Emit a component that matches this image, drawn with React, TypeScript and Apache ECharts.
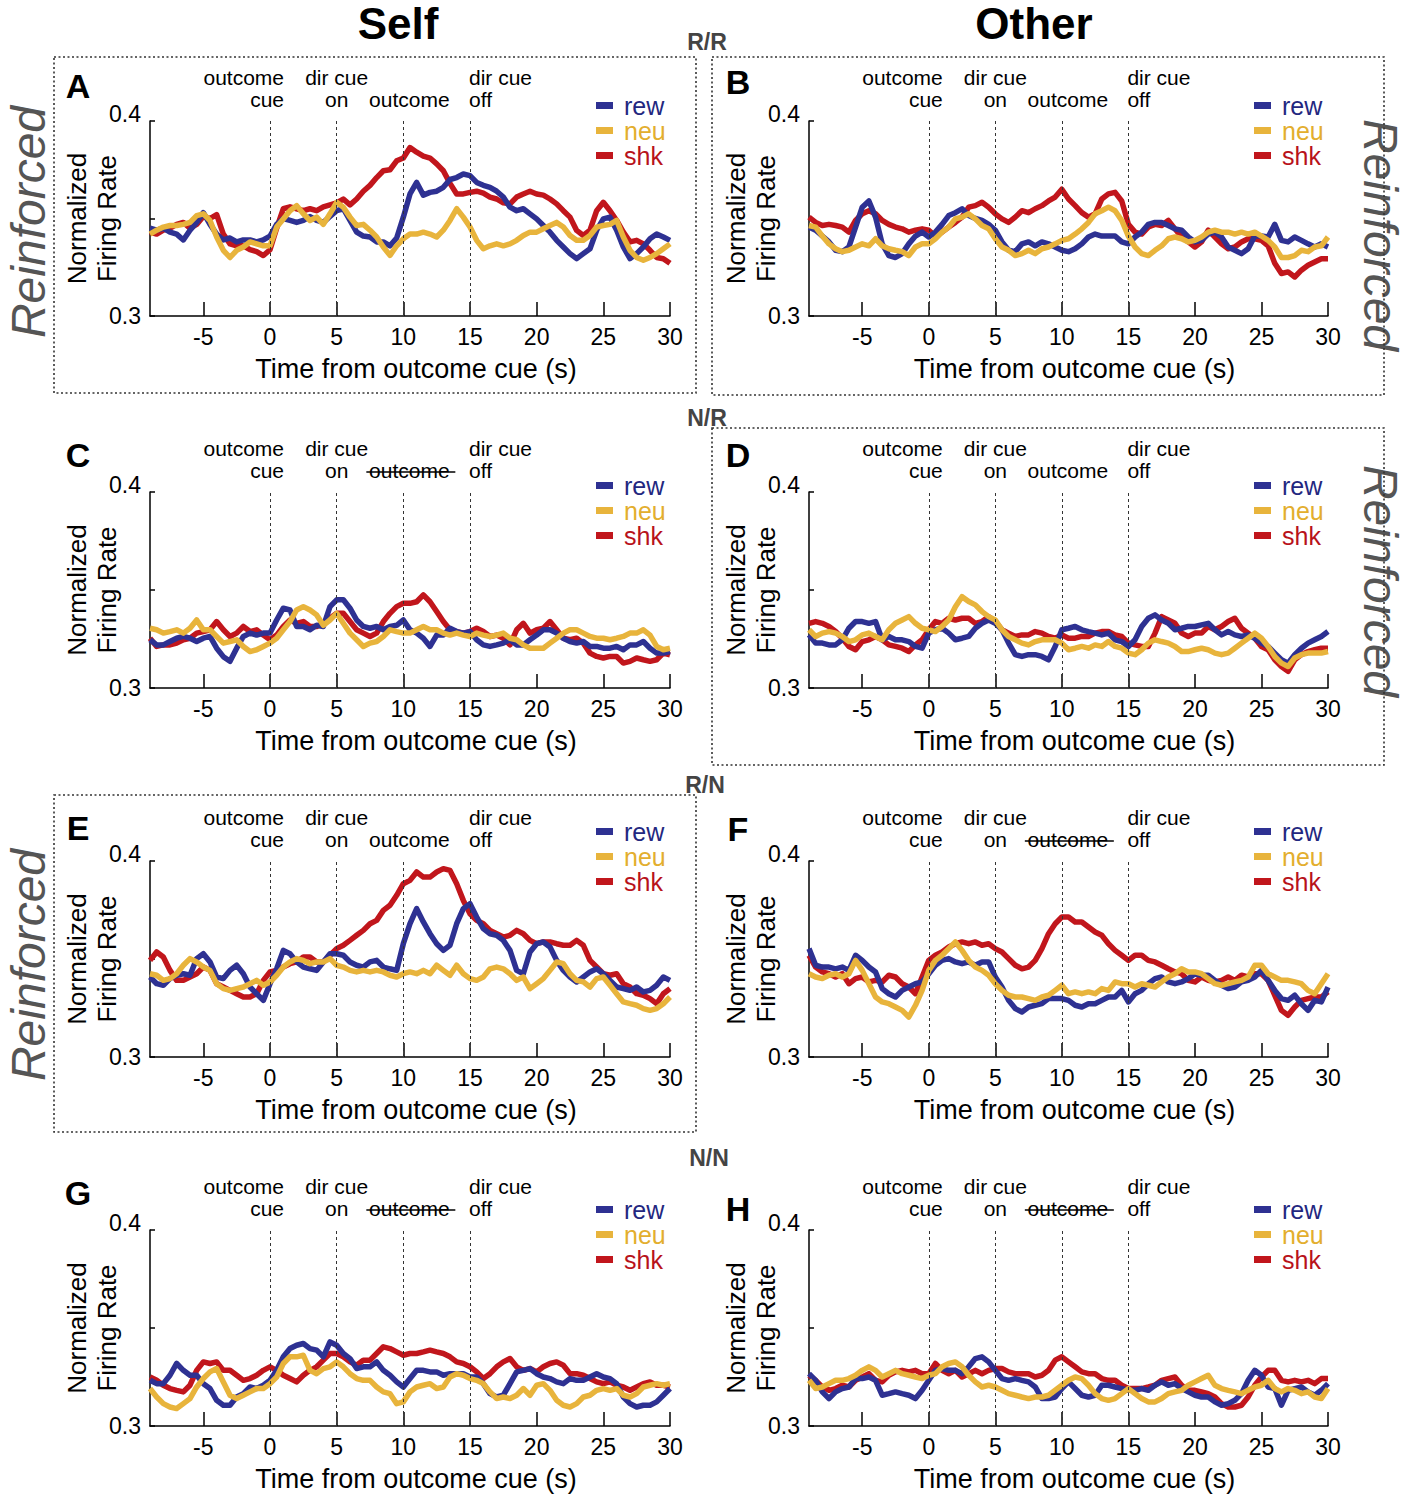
import React, { useEffect, useRef } from "react";
import * as echarts from "echarts";

// ---- sampling of every trace: first sample time and step (seconds) ----
const TIME_START = -9;
const TIME_STEP = 0.5;

const X_MIN = -9;
const X_MAX = 30;
const X_TICKS = [-5, 0, 5, 10, 15, 20, 25, 30];
const EVENT_TIMES = [0, 5, 10, 15];
const SERIES_NAMES = ["rew", "neu", "shk"];

// ---- Panel A (Self, R/R) ----
const A_REW = [
  0.345, 0.344, 0.345, 0.343, 0.342, 0.339, 0.344, 0.348,
  0.353, 0.347, 0.342, 0.339, 0.340, 0.338, 0.339, 0.339,
  0.338, 0.339, 0.341, 0.347, 0.350, 0.349, 0.348, 0.349,
  0.351, 0.349, 0.348, 0.351, 0.354, 0.355, 0.349, 0.343,
  0.341, 0.3405, 0.338, 0.338, 0.336, 0.340, 0.3507, 0.3626,
  0.3685, 0.362, 0.3634, 0.364, 0.366, 0.370, 0.371, 0.3728,
  0.372, 0.3685, 0.367, 0.366, 0.364, 0.361, 0.3558, 0.354,
  0.355, 0.3524, 0.3498, 0.3464, 0.343, 0.3388, 0.3354, 0.332,
  0.3294, 0.332, 0.3345, 0.344, 0.3498, 0.3507, 0.344, 0.3354,
  0.3294, 0.332, 0.3354, 0.3396, 0.342, 0.3405, 0.3388,
];
const A_NEU = [
  0.342, 0.344, 0.3456, 0.3464, 0.3464, 0.347, 0.348, 0.3515,
  0.3524, 0.349, 0.3405, 0.3337, 0.330, 0.3337, 0.3354, 0.338,
  0.337, 0.336, 0.336, 0.3456, 0.3498, 0.354, 0.3566, 0.3524,
  0.349, 0.3507, 0.347, 0.3524, 0.3583, 0.3558, 0.3507, 0.3464,
  0.347, 0.344, 0.3405, 0.3354, 0.3311, 0.336, 0.3396, 0.342,
  0.342, 0.343, 0.342, 0.3405, 0.344, 0.349, 0.355, 0.3507,
  0.3456, 0.3388, 0.3345, 0.336, 0.337, 0.336, 0.337, 0.3388,
  0.3413, 0.343, 0.343, 0.3447, 0.3464, 0.348, 0.3456, 0.3413,
  0.3388, 0.3388, 0.3413, 0.3456, 0.3464, 0.347, 0.349, 0.3405,
  0.3337, 0.330, 0.3286, 0.330, 0.332, 0.3345, 0.337,
];
const A_SHK = [
  0.343, 0.342, 0.344, 0.345, 0.347, 0.348, 0.345, 0.347,
  0.351, 0.350, 0.352, 0.342, 0.337, 0.336, 0.336, 0.334,
  0.333, 0.331, 0.334, 0.345, 0.355, 0.356, 0.355, 0.354,
  0.355, 0.354, 0.356, 0.357, 0.358, 0.360, 0.357, 0.360,
  0.364, 0.367, 0.371, 0.3745, 0.375, 0.3796, 0.381, 0.3864,
  0.384, 0.382, 0.381, 0.378, 0.3745, 0.368, 0.3626, 0.3626,
  0.3634, 0.364, 0.363, 0.361, 0.360, 0.358, 0.3575, 0.361,
  0.3626, 0.364, 0.3626, 0.362, 0.360, 0.3575, 0.354, 0.3507,
  0.3439, 0.3413, 0.344, 0.354, 0.3583, 0.354, 0.349, 0.343,
  0.338, 0.3388, 0.337, 0.3337, 0.330, 0.3294, 0.327,
];

// ---- Panel B (Other, R/R) ----
const B_REW = [
  0.3456, 0.344, 0.341, 0.338, 0.3337, 0.333, 0.3354, 0.3456,
  0.3558, 0.359, 0.3507, 0.337, 0.331, 0.330, 0.332, 0.337,
  0.341, 0.343, 0.3405, 0.343, 0.347, 0.3515, 0.353, 0.355,
  0.3515, 0.350, 0.349, 0.347, 0.344, 0.338, 0.3337, 0.333,
  0.337, 0.338, 0.336, 0.338, 0.337, 0.3354, 0.3337, 0.333,
  0.3345, 0.337, 0.3405, 0.342, 0.341, 0.341, 0.341, 0.338,
  0.337, 0.3405, 0.343, 0.347, 0.348, 0.348, 0.3464, 0.3447,
  0.344, 0.3405, 0.338, 0.3388, 0.342, 0.343, 0.3405, 0.3354,
  0.3337, 0.332, 0.3345, 0.341, 0.341, 0.3405, 0.347, 0.3388,
  0.338, 0.3405, 0.3388, 0.337, 0.3354, 0.337, 0.3354,
];
const B_NEU = [
  0.3464, 0.3456, 0.341, 0.337, 0.3345, 0.333, 0.3337, 0.3354,
  0.337, 0.336, 0.3396, 0.336, 0.3345, 0.3337, 0.333, 0.331,
  0.3354, 0.337, 0.337, 0.3396, 0.343, 0.3456, 0.3498, 0.3507,
  0.3524, 0.3498, 0.3464, 0.3447, 0.3396, 0.3354, 0.3337, 0.331,
  0.332, 0.3337, 0.332, 0.3345, 0.3354, 0.337, 0.3388, 0.3396,
  0.342, 0.3447, 0.348, 0.3524, 0.354, 0.3558, 0.354, 0.349,
  0.341, 0.3354, 0.332, 0.331, 0.3337, 0.336, 0.3396, 0.3405,
  0.3396, 0.338, 0.3388, 0.3405, 0.343, 0.344, 0.343, 0.343,
  0.342, 0.343, 0.342, 0.343, 0.341, 0.3388, 0.3354, 0.330,
  0.330, 0.331, 0.3337, 0.333, 0.3354, 0.336, 0.3405,
];
const B_SHK = [
  0.3507, 0.348, 0.3464, 0.347, 0.3464, 0.3456, 0.343, 0.349,
  0.3524, 0.354, 0.3524, 0.349, 0.347, 0.3456, 0.3447, 0.343,
  0.344, 0.3447, 0.344, 0.341, 0.343, 0.3456, 0.348, 0.3507,
  0.3558, 0.3566, 0.3583, 0.3558, 0.3524, 0.3498, 0.348, 0.3507,
  0.354, 0.353, 0.355, 0.3566, 0.359, 0.361, 0.365, 0.360,
  0.3566, 0.353, 0.3507, 0.3524, 0.360, 0.3626, 0.3634, 0.359,
  0.347, 0.343, 0.342, 0.3456, 0.347, 0.3464, 0.349, 0.3447,
  0.3405, 0.338, 0.3354, 0.338, 0.344, 0.3405, 0.337, 0.3345,
  0.3354, 0.338, 0.3396, 0.3396, 0.3388, 0.336, 0.327, 0.3218,
  0.3226, 0.320, 0.3235, 0.326, 0.3277, 0.3294, 0.3294,
];

// ---- Panel C (Self, N/R) ----
const C_REW = [
  0.3246, 0.322, 0.322, 0.3237, 0.3254, 0.3263, 0.3254, 0.3237,
  0.3254, 0.3263, 0.3203, 0.316, 0.3136, 0.3203, 0.3263, 0.328,
  0.327, 0.328, 0.328, 0.3347, 0.3407, 0.3398, 0.3314, 0.3314,
  0.3297, 0.332, 0.3314, 0.3415, 0.345, 0.345, 0.3407, 0.3347,
  0.3314, 0.3305, 0.3314, 0.3297, 0.3314, 0.332, 0.3347, 0.3297,
  0.328, 0.3254, 0.3212, 0.327, 0.327, 0.3305, 0.3288, 0.328,
  0.3288, 0.3246, 0.322, 0.3212, 0.322, 0.3229, 0.3246, 0.322,
  0.322, 0.3246, 0.327, 0.3297, 0.3297, 0.328, 0.3254, 0.3237,
  0.3229, 0.3237, 0.3212, 0.3212, 0.3203, 0.3203, 0.3212, 0.3195,
  0.322, 0.322, 0.3237, 0.3203, 0.3178, 0.3178, 0.3186,
];
const C_NEU = [
  0.3305, 0.3297, 0.328, 0.3288, 0.3297, 0.328, 0.3305, 0.3347,
  0.3297, 0.3297, 0.3263, 0.3229, 0.3237, 0.3246, 0.3212, 0.3186,
  0.3195, 0.3212, 0.3229, 0.3254, 0.3297, 0.3339, 0.3398, 0.3415,
  0.3398, 0.3373, 0.332, 0.3347, 0.3381, 0.333, 0.328, 0.3246,
  0.3212, 0.3229, 0.3237, 0.3263, 0.3297, 0.3288, 0.328, 0.328,
  0.3297, 0.3314, 0.3297, 0.3297, 0.328, 0.327, 0.328, 0.327,
  0.3263, 0.328, 0.327, 0.3263, 0.327, 0.328, 0.3254, 0.3246,
  0.322, 0.3203, 0.3203, 0.3203, 0.3229, 0.3254, 0.328, 0.3297,
  0.3297, 0.328, 0.3263, 0.3254, 0.3254, 0.3246, 0.3254, 0.3263,
  0.328, 0.328, 0.3297, 0.327, 0.3212, 0.3195, 0.3203,
];
const C_SHK = [
  0.3254, 0.3212, 0.322, 0.322, 0.3229, 0.3246, 0.3254, 0.328,
  0.3288, 0.3297, 0.3339, 0.3297, 0.3263, 0.328, 0.3314, 0.3288,
  0.3297, 0.327, 0.3246, 0.327, 0.3314, 0.3347, 0.333, 0.3339,
  0.3314, 0.3314, 0.333, 0.3356, 0.3381, 0.3381, 0.3339, 0.3297,
  0.328, 0.3263, 0.328, 0.3339, 0.3381, 0.3415, 0.3432, 0.3432,
  0.344, 0.3475, 0.344, 0.339, 0.3339, 0.3297, 0.3288, 0.328,
  0.3288, 0.3305, 0.3288, 0.3263, 0.327, 0.3254, 0.322, 0.3297,
  0.333, 0.328, 0.3297, 0.3305, 0.3339, 0.3297, 0.3254, 0.3246,
  0.3254, 0.3229, 0.3178, 0.3161, 0.3153, 0.3161, 0.3161, 0.3127,
  0.3136, 0.3153, 0.3144, 0.3136, 0.3144, 0.3178, 0.3169,
];

// ---- Panel D (Other, N/R) ----
const D_REW = [
  0.3271, 0.3229, 0.3229, 0.322, 0.322, 0.3246, 0.3305, 0.3339,
  0.3339, 0.333, 0.3339, 0.3246, 0.3263, 0.3246, 0.3246, 0.3237,
  0.3212, 0.3203, 0.328, 0.3297, 0.3305, 0.328, 0.3246, 0.3254,
  0.3263, 0.3305, 0.333, 0.3347, 0.333, 0.3297, 0.3229, 0.317,
  0.3161, 0.317, 0.317, 0.3161, 0.3144, 0.3212, 0.3297, 0.3305,
  0.3314, 0.3297, 0.3288, 0.328, 0.3271, 0.328, 0.3246, 0.3237,
  0.3212, 0.3246, 0.3314, 0.3356, 0.3373, 0.3347, 0.333, 0.3297,
  0.3305, 0.3314, 0.3314, 0.3322, 0.333, 0.3297, 0.3271, 0.3288,
  0.3271, 0.3263, 0.3271, 0.3254, 0.3229, 0.3212, 0.3178, 0.3144,
  0.3127, 0.317, 0.3203, 0.3229, 0.3246, 0.3263, 0.3288,
];
const D_NEU = [
  0.3297, 0.3263, 0.328, 0.3288, 0.328, 0.3263, 0.3237, 0.3246,
  0.3271, 0.328, 0.3263, 0.3246, 0.3297, 0.333, 0.3347, 0.3364,
  0.333, 0.3305, 0.3297, 0.3288, 0.3314, 0.3347, 0.3415, 0.3466,
  0.3441, 0.3424, 0.339, 0.3364, 0.3347, 0.3297, 0.3263, 0.3246,
  0.3229, 0.322, 0.3237, 0.3246, 0.3246, 0.3246, 0.3229, 0.3195,
  0.3203, 0.3212, 0.3203, 0.322, 0.3212, 0.3237, 0.3212, 0.3203,
  0.3178, 0.317, 0.3195, 0.3229, 0.3246, 0.3237, 0.3229, 0.3212,
  0.3186, 0.3186, 0.3195, 0.3203, 0.3195, 0.3178, 0.317, 0.3178,
  0.3203, 0.3229, 0.3254, 0.328, 0.3254, 0.3212, 0.3161, 0.3127,
  0.311, 0.3153, 0.317, 0.3178, 0.3178, 0.3178, 0.3186,
];
const D_SHK = [
  0.333, 0.3339, 0.333, 0.3314, 0.3288, 0.3254, 0.3212, 0.3195,
  0.3237, 0.3246, 0.3263, 0.3246, 0.322, 0.3212, 0.3203, 0.3186,
  0.322, 0.3246, 0.3297, 0.3339, 0.333, 0.3356, 0.3347, 0.3356,
  0.3356, 0.333, 0.3339, 0.3364, 0.3339, 0.3297, 0.328, 0.3263,
  0.3271, 0.3271, 0.3288, 0.328, 0.3263, 0.3254, 0.3271, 0.3254,
  0.3254, 0.3263, 0.3263, 0.328, 0.3288, 0.3288, 0.3271, 0.3263,
  0.3229, 0.322, 0.3212, 0.3212, 0.328, 0.3364, 0.3347, 0.333,
  0.328, 0.3263, 0.328, 0.328, 0.3314, 0.3297, 0.3314, 0.3339,
  0.3356, 0.3305, 0.328, 0.3254, 0.3212, 0.3195, 0.3144, 0.311,
  0.3085, 0.3144, 0.317, 0.3186, 0.3195, 0.3203, 0.3203,
];

// ---- Panel E (Self, R/N) ----
const E_REW = [
  0.3408, 0.3374, 0.3366, 0.340, 0.3417, 0.3425, 0.3417, 0.3502,
  0.3527, 0.3485, 0.3408, 0.340, 0.3442, 0.3468, 0.3425, 0.3357,
  0.3323, 0.3289, 0.3374, 0.345, 0.3544, 0.3527, 0.3485, 0.3459,
  0.345, 0.3442, 0.3485, 0.3527, 0.3527, 0.3519, 0.3485, 0.3468,
  0.3459, 0.3485, 0.3493, 0.3459, 0.345, 0.3442, 0.3578, 0.368,
  0.3757, 0.3689, 0.3629, 0.3578, 0.3544, 0.357, 0.368, 0.3757,
  0.3782, 0.3714, 0.3655, 0.3629, 0.3621, 0.3595, 0.3544, 0.3442,
  0.3425, 0.3536, 0.3578, 0.3587, 0.3561, 0.3493, 0.3442, 0.3408,
  0.3383, 0.3408, 0.3434, 0.345, 0.3425, 0.3391, 0.3357, 0.3349,
  0.334, 0.3357, 0.3332, 0.334, 0.3366, 0.3408, 0.3391,
];
const E_NEU = [
  0.3425, 0.3417, 0.3391, 0.340, 0.3425, 0.3468, 0.3502, 0.3485,
  0.3459, 0.3442, 0.3374, 0.3349, 0.334, 0.3349, 0.3357, 0.3374,
  0.3391, 0.3366, 0.3383, 0.3417, 0.3459, 0.3485, 0.3502, 0.3493,
  0.3476, 0.3485, 0.3485, 0.3502, 0.3468, 0.3459, 0.3442, 0.3434,
  0.3442, 0.3434, 0.3442, 0.3434, 0.3417, 0.3408, 0.3425, 0.3434,
  0.3425, 0.3442, 0.3425, 0.3468, 0.3442, 0.3417, 0.3468, 0.3425,
  0.340, 0.3391, 0.3408, 0.345, 0.3459, 0.345, 0.3425, 0.3391,
  0.3408, 0.3349, 0.3374, 0.340, 0.3442, 0.3485, 0.3476, 0.3425,
  0.3391, 0.3383, 0.3357, 0.340, 0.3408, 0.3366, 0.3323, 0.3281,
  0.3272, 0.3264, 0.3247, 0.3238, 0.3247, 0.3272, 0.3306,
];
const E_SHK = [
  0.3493, 0.3536, 0.351, 0.3442, 0.3391, 0.3391, 0.3408, 0.3425,
  0.3459, 0.3442, 0.3374, 0.3357, 0.334, 0.3323, 0.3306, 0.3306,
  0.3323, 0.3391, 0.3434, 0.3442, 0.3459, 0.3476, 0.3485, 0.351,
  0.351, 0.3485, 0.3485, 0.3519, 0.3553, 0.357, 0.3595, 0.3621,
  0.3646, 0.368, 0.3697, 0.3748, 0.3774, 0.3825, 0.3884, 0.3901,
  0.3944, 0.3918, 0.3918, 0.3944, 0.3961, 0.3952, 0.3884, 0.3799,
  0.3731, 0.3697, 0.368, 0.3646, 0.3629, 0.3612, 0.3621, 0.3646,
  0.3629, 0.3595, 0.3578, 0.3587, 0.3587, 0.3578, 0.357, 0.357,
  0.3595, 0.357, 0.3493, 0.3459, 0.3425, 0.3417, 0.3425, 0.3374,
  0.3357, 0.3323, 0.3315, 0.3298, 0.3272, 0.3323, 0.3349,
];

// ---- Panel F (Other, R/N) ----
const F_REW = [
  0.3553, 0.3468, 0.3459, 0.3459, 0.345, 0.3459, 0.3442, 0.3519,
  0.3493, 0.3459, 0.3434, 0.3349, 0.3323, 0.3306, 0.334, 0.3357,
  0.3374, 0.3383, 0.3425, 0.3468, 0.3493, 0.3502, 0.3485, 0.3476,
  0.3485, 0.3468, 0.3485, 0.3485, 0.3408, 0.3357, 0.3289, 0.3247,
  0.323, 0.3255, 0.3264, 0.3272, 0.3298, 0.3298, 0.3298, 0.3289,
  0.3264, 0.3255, 0.3272, 0.3272, 0.3289, 0.3306, 0.3306, 0.334,
  0.3281, 0.3323, 0.334, 0.3374, 0.340, 0.3408, 0.3383, 0.3374,
  0.3383, 0.340, 0.3425, 0.3417, 0.3417, 0.3391, 0.3366, 0.3349,
  0.3357, 0.3383, 0.3391, 0.3408, 0.3442, 0.3391, 0.334, 0.3298,
  0.3289, 0.3315, 0.3272, 0.3238, 0.3289, 0.3281, 0.3357,
];
const F_NEU = [
  0.3425, 0.3408, 0.340, 0.3417, 0.3425, 0.3408, 0.3425, 0.3493,
  0.3442, 0.3374, 0.3306, 0.3281, 0.3272, 0.3255, 0.3238, 0.3204,
  0.3264, 0.334, 0.3442, 0.3493, 0.3519, 0.3553, 0.3587, 0.3544,
  0.3493, 0.3459, 0.3442, 0.3417, 0.3374, 0.334, 0.3315, 0.3306,
  0.3306, 0.3298, 0.3289, 0.3306, 0.3315, 0.334, 0.3366, 0.3323,
  0.3332, 0.3323, 0.3332, 0.3323, 0.3349, 0.334, 0.3383, 0.3374,
  0.3374, 0.3357, 0.3374, 0.3366, 0.3357, 0.3383, 0.3408, 0.3425,
  0.345, 0.3434, 0.3434, 0.3425, 0.340, 0.3374, 0.3366, 0.3374,
  0.3383, 0.3391, 0.3408, 0.3468, 0.3468, 0.3425, 0.3408, 0.3391,
  0.3391, 0.3383, 0.3374, 0.334, 0.3323, 0.3374, 0.3425,
];
const F_SHK = [
  0.3519, 0.3459, 0.3434, 0.3425, 0.3408, 0.3425, 0.3374, 0.340,
  0.3408, 0.3383, 0.3391, 0.3383, 0.3417, 0.3408, 0.3374, 0.3357,
  0.3323, 0.3408, 0.3493, 0.3519, 0.3536, 0.3561, 0.3578, 0.3587,
  0.3578, 0.3587, 0.357, 0.3578, 0.3553, 0.3536, 0.3502, 0.3468,
  0.345, 0.3459, 0.3493, 0.3553, 0.3629, 0.368, 0.3714, 0.3714,
  0.3689, 0.3689, 0.3663, 0.3638, 0.3621, 0.3578, 0.3544, 0.3519,
  0.3493, 0.3519, 0.3519, 0.3493, 0.3485, 0.3468, 0.345, 0.3434,
  0.3425, 0.3391, 0.3383, 0.3408, 0.3391, 0.3383, 0.3391, 0.3408,
  0.3391, 0.3417, 0.3408, 0.3425, 0.3425, 0.3391, 0.3315, 0.3238,
  0.3213, 0.3255, 0.3289, 0.3298, 0.3306, 0.3306, 0.3332,
];

// ---- Panel G (Self, N/N) ----
const G_REW = [
  0.3233, 0.3216, 0.3216, 0.3259, 0.3319, 0.3284, 0.3259, 0.3259,
  0.3216, 0.3191, 0.3131, 0.3106, 0.3106, 0.3148, 0.3165, 0.3199,
  0.3191, 0.3208, 0.3233, 0.3284, 0.3353, 0.3395, 0.3412, 0.3421,
  0.3395, 0.3387, 0.3353, 0.3429, 0.3412, 0.337, 0.3344, 0.3293,
  0.3302, 0.3302, 0.3327, 0.3284, 0.3259, 0.3225, 0.3199, 0.3242,
  0.3284, 0.3284, 0.3276, 0.3276, 0.3259, 0.3267, 0.3267, 0.3267,
  0.325, 0.325, 0.3216, 0.3165, 0.3148, 0.3157, 0.3216, 0.3276,
  0.3284, 0.3293, 0.3267, 0.325, 0.3242, 0.3225, 0.3216, 0.3242,
  0.3233, 0.3233, 0.325, 0.3267, 0.325, 0.3242, 0.3216, 0.3148,
  0.3114, 0.3097, 0.3106, 0.3106, 0.3123, 0.3157, 0.3191,
];
const G_NEU = [
  0.3191, 0.3148, 0.3114, 0.3097, 0.3089, 0.3114, 0.314, 0.3199,
  0.3242, 0.3276, 0.3293, 0.3225, 0.3157, 0.314, 0.3157, 0.3174,
  0.3191, 0.3191, 0.3216, 0.325, 0.3319, 0.3353, 0.3353, 0.3361,
  0.3284, 0.3267, 0.3293, 0.3302, 0.3327, 0.3302, 0.3267, 0.3242,
  0.3233, 0.3233, 0.3199, 0.3174, 0.3165, 0.3114, 0.3123, 0.3174,
  0.3199, 0.3208, 0.3216, 0.3191, 0.3199, 0.325, 0.3267, 0.3259,
  0.3242, 0.3233, 0.3216, 0.3174, 0.314, 0.3148, 0.314, 0.3157,
  0.3191, 0.3157, 0.3208, 0.3216, 0.3182, 0.3131, 0.3106, 0.3097,
  0.3114, 0.3148, 0.3157, 0.3182, 0.3191, 0.3182, 0.3191, 0.3157,
  0.3148, 0.3165, 0.3199, 0.3208, 0.3216, 0.3208, 0.3216,
];
const G_SHK = [
  0.325, 0.3233, 0.3208, 0.3191, 0.3182, 0.3174, 0.3208, 0.3284,
  0.3327, 0.3319, 0.3327, 0.3284, 0.3284, 0.3259, 0.3233, 0.3242,
  0.3259, 0.3284, 0.3302, 0.3284, 0.3259, 0.3242, 0.3225, 0.3259,
  0.3284, 0.3302, 0.3336, 0.337, 0.337, 0.3353, 0.3327, 0.331,
  0.3336, 0.3336, 0.337, 0.3404, 0.3395, 0.3378, 0.3361, 0.337,
  0.337, 0.3378, 0.3387, 0.3378, 0.337, 0.3353, 0.3327, 0.3319,
  0.3302, 0.3276, 0.3242, 0.3267, 0.3302, 0.3327, 0.3344, 0.3302,
  0.3284, 0.3293, 0.3276, 0.3302, 0.3319, 0.3327, 0.331, 0.3267,
  0.3267, 0.3259, 0.3242, 0.3225, 0.3216, 0.3225, 0.3208, 0.3199,
  0.3182, 0.3199, 0.3216, 0.3225, 0.3208, 0.3208, 0.3199,
];

// ---- Panel H (Other, N/N) ----
const H_REW = [
  0.3267, 0.3233, 0.3174, 0.314, 0.3174, 0.3191, 0.3199, 0.3242,
  0.3242, 0.325, 0.3233, 0.3157, 0.3165, 0.3174, 0.3165, 0.3157,
  0.314, 0.3182, 0.3233, 0.3284, 0.3293, 0.3284, 0.3284, 0.3267,
  0.3302, 0.3344, 0.3353, 0.3327, 0.3284, 0.3242, 0.3233, 0.3242,
  0.3233, 0.3225, 0.3199, 0.314, 0.314, 0.3148, 0.3191, 0.3225,
  0.3191, 0.3157, 0.3148, 0.3157, 0.3208, 0.3208, 0.3199, 0.3191,
  0.3182, 0.3182, 0.3191, 0.3182, 0.3208, 0.3225, 0.3208, 0.3216,
  0.3191, 0.3174, 0.3157, 0.3148, 0.3148, 0.3123, 0.3106, 0.3114,
  0.3131, 0.3165, 0.3233, 0.3284, 0.3259, 0.3199, 0.3191, 0.3106,
  0.3182, 0.3191, 0.3199, 0.3174, 0.3157, 0.3182, 0.3216,
];
const H_NEU = [
  0.3233, 0.3191, 0.3199, 0.3216, 0.3233, 0.3233, 0.3242, 0.3259,
  0.3284, 0.3302, 0.3284, 0.325, 0.3267, 0.3284, 0.3267, 0.3259,
  0.325, 0.3242, 0.3259, 0.3267, 0.3302, 0.3319, 0.3327, 0.3302,
  0.3259, 0.3225, 0.3199, 0.3208, 0.3199, 0.3182, 0.3165, 0.3157,
  0.3148, 0.314, 0.3148, 0.3148, 0.3157, 0.3182, 0.3208, 0.3233,
  0.325, 0.3242, 0.3208, 0.3165, 0.314, 0.3131, 0.314, 0.3165,
  0.3191, 0.3165, 0.314, 0.3123, 0.3123, 0.314, 0.3165, 0.3174,
  0.3182, 0.3208, 0.3225, 0.3242, 0.3259, 0.3208, 0.3191, 0.3182,
  0.3174, 0.3165, 0.3182, 0.3199, 0.3208, 0.3233, 0.3191, 0.3174,
  0.3191, 0.3182, 0.3165, 0.3174, 0.3148, 0.314, 0.3191,
];
const H_SHK = [
  0.3259, 0.3233, 0.3199, 0.3182, 0.3191, 0.3208, 0.3199, 0.3233,
  0.325, 0.3267, 0.3233, 0.3225, 0.3259, 0.3276, 0.3284, 0.3276,
  0.3284, 0.3267, 0.3267, 0.3319, 0.3284, 0.3267, 0.3284, 0.325,
  0.3267, 0.3284, 0.3267, 0.3284, 0.3293, 0.3293, 0.3276, 0.3267,
  0.3267, 0.3267, 0.325, 0.3259, 0.3284, 0.3336, 0.3353, 0.3327,
  0.3302, 0.3276, 0.3267, 0.3267, 0.3242, 0.3233, 0.3233, 0.3208,
  0.3191, 0.3191, 0.3191, 0.3199, 0.3208, 0.3233, 0.3242, 0.325,
  0.3208, 0.3182, 0.3182, 0.3174, 0.3165, 0.3148, 0.3114, 0.3097,
  0.3097, 0.3106, 0.3148, 0.3208, 0.325, 0.3284, 0.3284, 0.3233,
  0.3225, 0.3233, 0.3225, 0.3233, 0.3216, 0.3242, 0.3242,
];

// ---- styling / layout (not data) ----
const COLORS: Record<string, string> = { rew: "#2E3192", neu: "#E8B43C", shk: "#C1161C" };
const TEXT_COLORS: Record<string, string> = { rew: "#23277F", neu: "#E3AE2E", shk: "#B8121A" };
const FONT = "'Liberation Sans', Arial, Helvetica, sans-serif";
const COL_LEFT = [150, 809];
const COL_WIDTH = [520, 519];
const ROW_TOP = [121, 492, 861, 1230];
const ROW_H = [195, 196, 196, 196];

type Panel = {
  letter: string; col: number; row: number;
  rew: number[]; neu: number[]; shk: number[];
  strike: boolean; legendTop: number; letterY: number;
};

const PANELS: Panel[] = [
  { letter: "A", col: 0, row: 0, rew: A_REW, neu: A_NEU, shk: A_SHK, strike: false, legendTop: 93, letterY: 86 },
  { letter: "B", col: 1, row: 0, rew: B_REW, neu: B_NEU, shk: B_SHK, strike: false, legendTop: 93, letterY: 82 },
  { letter: "C", col: 0, row: 1, rew: C_REW, neu: C_NEU, shk: C_SHK, strike: true, legendTop: 473, letterY: 455 },
  { letter: "D", col: 1, row: 1, rew: D_REW, neu: D_NEU, shk: D_SHK, strike: false, legendTop: 473, letterY: 455 },
  { letter: "E", col: 0, row: 2, rew: E_REW, neu: E_NEU, shk: E_SHK, strike: false, legendTop: 819, letterY: 828 },
  { letter: "F", col: 1, row: 2, rew: F_REW, neu: F_NEU, shk: F_SHK, strike: true, legendTop: 819, letterY: 829 },
  { letter: "G", col: 0, row: 3, rew: G_REW, neu: G_NEU, shk: G_SHK, strike: true, legendTop: 1197, letterY: 1193 },
  { letter: "H", col: 1, row: 3, rew: H_REW, neu: H_NEU, shk: H_SHK, strike: true, legendTop: 1197, letterY: 1209 },
];

const toPoints = (vals: number[]) => vals.map((v, i) => [TIME_START + i * TIME_STEP, v]);

const pxFor = (col: number, t: number) =>
  COL_LEFT[col] + ((t - X_MIN) / (X_MAX - X_MIN)) * COL_WIDTH[col];

function txt(text: string, x: number, y: number, extra: any = {}, elExtra: any = {}) {
  return {
    type: "text",
    x,
    y,
    silent: true,
    ...elExtra,
    style: {
      text,
      fontSize: 21,
      lineHeight: 21.5,
      fontFamily: FONT,
      fill: "#000",
      align: "center",
      verticalAlign: "middle",
      ...extra,
    },
  };
}

function buildOption() {
  const axisLineStyle = { color: "#000", width: 1.5 };
  const grid: any[] = [];
  const xAxis: any[] = [];
  const yAxis: any[] = [];
  const series: any[] = [];
  const legend: any[] = [];
  const graphic: any[] = [];

  PANELS.forEach((p, i) => {
    grid.push({
      left: COL_LEFT[p.col],
      top: ROW_TOP[p.row],
      width: COL_WIDTH[p.col],
      height: ROW_H[p.row],
      containLabel: false,
    });
    xAxis.push({
      gridIndex: i,
      type: "value",
      min: X_MIN,
      max: X_MAX,
      name: "Time from outcome cue (s)",
      nameLocation: "middle",
      nameGap: 39,
      nameMoveOverlap: false,
      nameTextStyle: { fontSize: 27, color: "#000", fontFamily: FONT, padding: [0, 0, 0, 12] },
      axisLine: { show: true, onZero: false, lineStyle: axisLineStyle },
      axisTick: { show: true, inside: true, length: 14, customValues: X_TICKS, lineStyle: axisLineStyle },
      axisLabel: { customValues: X_TICKS, fontSize: 23, color: "#000", margin: 9, fontFamily: FONT },
      splitLine: { show: false },
    });
    yAxis.push({
      gridIndex: i,
      type: "value",
      min: 0.3,
      max: 0.4,
      interval: 0.05,
      name: "Normalized\nFiring Rate",
      nameLocation: "middle",
      nameRotate: 90,
      nameGap: 28,
      nameMoveOverlap: false,
      nameTextStyle: { fontSize: 26, lineHeight: 30, color: "#000", fontFamily: FONT },
      axisLine: { show: true, onZero: false, lineStyle: axisLineStyle },
      axisTick: { show: true, inside: true, length: 5, lineStyle: axisLineStyle },
      axisLabel: {
        fontSize: 23,
        color: "#000",
        margin: 9,
        fontFamily: FONT,
        formatter: (v: number) =>
          Math.abs(v - 0.4) < 1e-6 ? "{top|0.4}" : Math.abs(v - 0.3) < 1e-6 ? "0.3" : "",
        rich: { top: { fontSize: 23, color: "#000", fontFamily: FONT, padding: [0, 0, 14, 0] } },
      },
      splitLine: { show: false },
    });
    // event guide lines
    series.push({
      type: "line",
      name: "guides",
      xAxisIndex: i,
      yAxisIndex: i,
      data: [],
      z: 1,
      silent: true,
      markLine: {
        silent: true,
        symbol: ["none", "none"],
        label: { show: false },
        emphasis: { disabled: true },
        lineStyle: { type: [3, 3], color: "#333", width: 1 },
        data: EVENT_TIMES.map((t) => ({ xAxis: t })),
      },
    });
    const drawOrder: [string, number[]][] = [
      ["shk", p.shk],
      ["rew", p.rew],
      ["neu", p.neu],
    ];
    drawOrder.forEach(([name, vals]) => {
      series.push({
        type: "line",
        name,
        xAxisIndex: i,
        yAxisIndex: i,
        data: toPoints(vals),
        showSymbol: false,
        symbol: "none",
        z: 2,
        silent: true,
        color: COLORS[name],
        lineStyle: { color: COLORS[name], width: 5.5, join: "round" },
        emphasis: { disabled: true },
      });
    });
    legend.push({
      left: COL_LEFT[p.col] + COL_WIDTH[p.col] - 74,
      top: p.legendTop,
      padding: 0,
      orient: "vertical",
      icon: "rect",
      itemWidth: 17,
      itemHeight: 7,
      itemGap: 0,
      selectedMode: false,
      data: SERIES_NAMES.map((n) => ({ name: n, textStyle: { color: TEXT_COLORS[n] } })),
      textStyle: { fontSize: 25, fontFamily: FONT, padding: [0, 0, 0, 6] },
    });

    // panel letter
    graphic.push(
      txt(p.letter, p.col === 0 ? 78 : 738, p.letterY, { fontSize: 34, fontWeight: "bold", lineHeight: 34 })
    );
    // event labels (two-line annotations above the plot)
    const top = ROW_TOP[p.row];
    const mid = top - 32.5;
    const l2 = top - 22;
    const x0 = pxFor(p.col, 0) + 14;
    const x5 = pxFor(p.col, 5);
    const x10 = pxFor(p.col, 10) + 6;
    const x15 = pxFor(p.col, 15) - 1;
    graphic.push(txt("outcome\ncue", x0, mid, { align: "right" }));
    graphic.push(txt("dir cue\non", x5, mid));
    graphic.push(txt("outcome", x10, l2));
    graphic.push(txt("dir cue\noff", x15, mid, { align: "left" }));
    if (p.strike) {
      graphic.push({
        type: "line",
        silent: true,
        shape: { x1: x10 - 43, y1: l2 + 2, x2: x10 + 46, y2: l2 + 2 },
        style: { stroke: "#000", lineWidth: 1.5 },
      });
    }
  });

  // column titles
  graphic.push(txt("Self", 398, 23, { fontSize: 44, fontWeight: "bold", lineHeight: 44 }));
  graphic.push(txt("Other", 1034, 23, { fontSize: 44, fontWeight: "bold", lineHeight: 44 }));
  // condition labels
  const cond: [string, number, number][] = [
    ["R/R", 707, 42],
    ["N/R", 707, 418],
    ["R/N", 705, 785],
    ["N/N", 709, 1158],
  ];
  cond.forEach(([t, x, y]) =>
    graphic.push(txt(t, x, y, { fontSize: 23, fontWeight: "bold", fill: "#444", lineHeight: 23 }))
  );
  // "Reinforced" side labels
  const reinf: [number, number, number][] = [
    [28, 222, Math.PI / 2],
    [28, 965, Math.PI / 2],
    [1380, 235, -Math.PI / 2],
    [1380, 581, -Math.PI / 2],
  ];
  reinf.forEach(([x, y, r]) =>
    graphic.push(
      txt("Reinforced", x, y, { fontSize: 48, fontStyle: "italic", fill: "#555", lineHeight: 48 }, { rotation: r })
    )
  );
  // dotted boxes around reinforced panels
  const boxes: [number, number, number, number][] = [
    [54, 57, 642, 336],
    [712, 57, 672, 338],
    [712, 428, 672, 337],
    [54, 795, 642, 337],
  ];
  boxes.forEach(([x, y, w, h]) =>
    graphic.push({
      type: "rect",
      silent: true,
      shape: { x, y, width: w, height: h },
      style: { fill: "none", stroke: "#333", lineWidth: 1.6, lineDash: [2, 2.5] },
    })
  );

  return {
    animation: false,
    backgroundColor: "#fff",
    textStyle: { fontFamily: FONT },
    grid,
    xAxis,
    yAxis,
    legend,
    series,
    graphic,
  };
}

export default function App() {
  const ref = useRef<HTMLDivElement>(null);
  useEffect(() => {
    if (!ref.current) return;
    const chart = echarts.init(ref.current, null, { renderer: "svg" });
    chart.setOption(buildOption() as any);
    return () => chart.dispose();
  }, []);
  return (
    <div
      ref={ref}
      style={{ position: "absolute", left: 0, top: 0, width: 1408, height: 1500, background: "#fff" }}
    />
  );
}
